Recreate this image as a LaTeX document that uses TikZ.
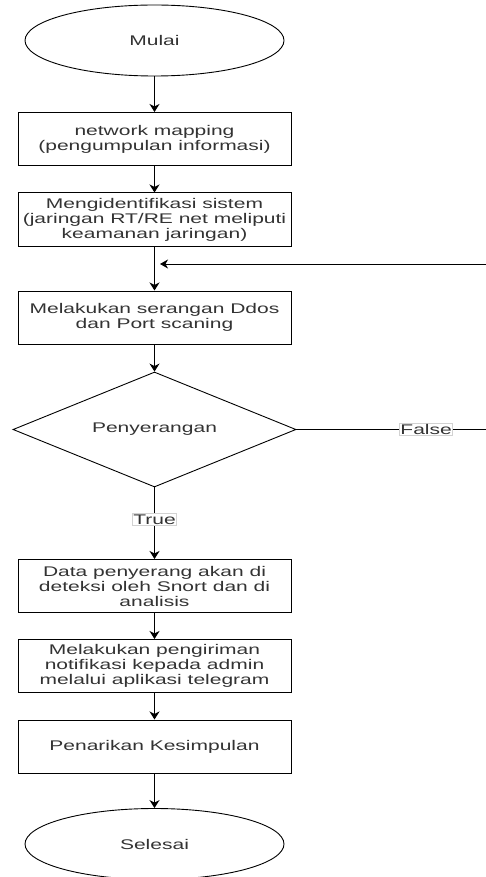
\documentclass[tikz,border=0pt]{standalone}
\usepackage{fontspec}
\setmainfont{Liberation Sans}[FakeStretch=1.5]
\usetikzlibrary{shapes.geometric,arrows.meta}
\definecolor{txt}{HTML}{333333}

\begin{document}
\begin{tikzpicture}
[x=1pt,y=-1pt]
\tikzset{every node/.style={text=txt,font=\fontsize{14}{15}\selectfont,align=center}}
\tikzset{term/.style={ellipse,draw,line width=.9pt,minimum width=259pt,minimum height=71pt,inner sep=0pt}}
\tikzset{proc/.style={draw,line width=1pt,minimum width=273pt,minimum height=53pt,inner sep=1pt}}
\tikzset{dec/.style={diamond,draw,line width=.9pt,aspect=2.46,minimum width=283pt,minimum height=115pt,inner sep=0pt}}
\tikzset{lbl/.style={fill=white,draw=gray!35,line width=.6pt,inner sep=1pt}}
\tikzset{arr/.style={line width=1.1pt,-{Stealth[length=8pt,width=10pt,inset=2.5pt]}}}
\useasboundingbox (0,0) rectangle (486,877);
\node [term] (n1) at (154.5,40.5) {Mulai};
\node [proc] (n2) at (154.5,139) {network mapping\\(pengumpulan informasi)};
\node [proc] (n3) at (154.5,219.5) {Mengidentifikasi sistem\\(jaringan RT/RE net meliputi\\keamanan jaringan)};
\node [proc] (n4) at (154.5,317.5) {Melakukan serangan Ddos\\dan Port scaning};
\node [dec] (n5) at (154.5,429.5) {Penyerangan};
\node [proc] (n6) at (154.5,586) {Data penyerang akan di\\deteksi oleh Snort dan di\\analisis};
\node [proc] (n7) at (154.5,666) {Melakukan pengiriman\\notifikasi kepada admin\\melalui aplikasi telegram};
\node [proc] (n8) at (154.5,746.5) {Penarikan Kesimpulan};
\node [term] (n9) at (154.5,844) {Selesai};
\coordinate (c1) at (486,429.5);
\coordinate (c2) at (486,264);
\coordinate (c3) at (160,264);

\foreach \from/\to in {n1/n2,n2/n3,n3/n4,n4/n5,n6/n7,n7/n8,n8/n9}
	\draw [arr] (\from) -- (\to);
\draw [arr] (n5) -- node [lbl,pos=.45] (t1) {True} (n6);
\draw [line width=1pt] (n5.east) -- node [lbl,pos=.684] (t2) {False} (c1);
\draw [line width=1pt,-{Stealth[length=8pt,width=9pt,inset=2.5pt]}] (c2) -- (c3);
\end{tikzpicture}
\end{document}
